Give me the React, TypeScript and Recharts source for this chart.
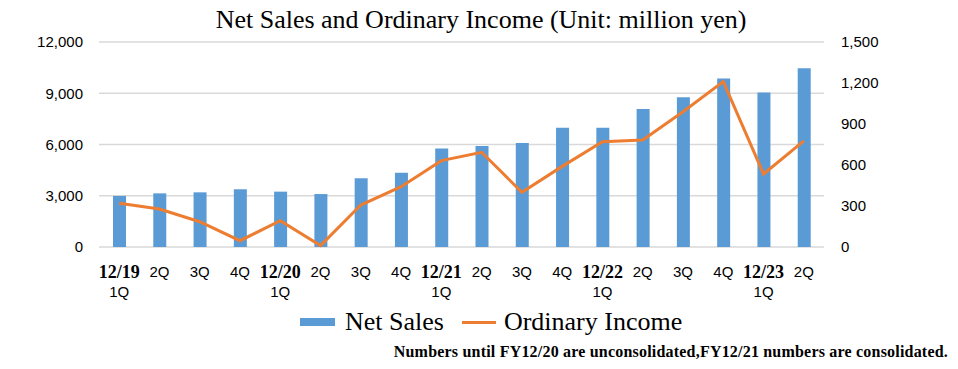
import React from "react";
import {
  ComposedChart, Bar, Line, XAxis, YAxis, CartesianGrid,
} from "recharts";

const categories = [
  "12/19 1Q", "2Q", "3Q", "4Q",
  "12/20 1Q", "2Q", "3Q", "4Q",
  "12/21 1Q", "2Q", "3Q", "4Q",
  "12/22 1Q", "2Q", "3Q", "4Q",
  "12/23 1Q", "2Q",
];
const netSales = [
  2990, 3140, 3200, 3380, 3240, 3100, 4020, 4350, 5760,
  5910, 6090, 6980, 6980, 8080, 8760, 9870, 9050, 10460,
];
const ordinaryIncome = [
  320, 278, 185, 46, 193, 10, 307, 441, 632,
  693, 400, 590, 771, 783, 990, 1210, 534, 776,
];
const salesTicks = [0, 3000, 6000, 9000, 12000];
const incomeTicks = [0, 300, 600, 900, 1200, 1500];

const BLUE = "#5B9BD5";
const ORANGE = "#ED7D31";
const SERIF = "'Liberation Serif', 'Times New Roman', serif";
const SANS = "'Liberation Sans', Arial, sans-serif";

const data = categories.map((c, i) => ({
  idx: i,
  netSales: netSales[i],
  ordinaryIncome: ordinaryIncome[i],
}));

const fmt = (v: number) => v.toLocaleString("en-US");

// period label: "12/19 1Q" -> bold serif year on top, quarter below
const PeriodTick = (props: any) => {
  const { x, y, payload } = props;
  const parts = categories[payload.value].split(" ");
  if (parts.length === 2) {
    return (
      <g>
        <text x={x} y={y + 29} textAnchor="middle" fontFamily={SERIF} fontWeight="bold" fontSize={18} fill="#000">
          {parts[0]}
        </text>
        <text x={x} y={y + 48} textAnchor="middle" fontFamily={SANS} fontSize={15} fill="#000">
          {parts[1]}
        </text>
      </g>
    );
  }
  return (
    <text x={x} y={y + 28} textAnchor="middle" fontFamily={SANS} fontSize={15} fill="#000">
      {parts[0]}
    </text>
  );
};

export default function App() {
  return (
    <div style={{ position: "absolute", left: 0, top: 0, width: 958, height: 369, background: "#fff" }}>
      <div style={{ position: "absolute", left: 0, width: 962, top: 5, textAlign: "center", fontFamily: SERIF, fontSize: 26, color: "#000", lineHeight: "30px" }}>
        Net Sales and Ordinary Income (Unit: million yen)
      </div>
      <ComposedChart
        width={958}
        height={369}
        data={data}
        margin={{ top: 42, right: 74, left: 39, bottom: 62 }}
      >
        <CartesianGrid yAxisId="left" vertical={false} stroke="#D9D9D9" strokeWidth={1.5} />
        <XAxis
          dataKey="idx"
          tick={<PeriodTick />}
          tickLine={false}
          axisLine={false}
          tickSize={0}
          interval={0}
          height={60}
        />
        <YAxis
          yAxisId="left"
          domain={[0, 12000]}
          ticks={salesTicks}
          tickFormatter={fmt}
          axisLine={false}
          tickLine={false}
          tickSize={0}
          tickMargin={16}
          width={60}
          tick={{ fontSize: 15, fill: "#000", fontFamily: SANS }}
        />
        <YAxis
          yAxisId="right"
          orientation="right"
          domain={[0, 1500]}
          ticks={incomeTicks}
          tickFormatter={fmt}
          axisLine={false}
          tickLine={false}
          tickSize={0}
          tickMargin={17}
          width={60}
          tick={{ fontSize: 15, fill: "#000", fontFamily: SANS, textAnchor: "start" }}
        />
        <Bar yAxisId="left" dataKey="netSales" name="Net Sales" fill={BLUE} barSize={13} isAnimationActive={false} />
        <Line
          yAxisId="right"
          dataKey="ordinaryIncome"
          name="Ordinary Income"
          stroke={ORANGE}
          strokeWidth={3}
          dot={false}
          type="linear"
          isAnimationActive={false}
        />
      </ComposedChart>
      <div style={{ position: "absolute", left: 300, top: 306, height: 32, display: "flex", alignItems: "center", fontFamily: SERIF, fontSize: 26, color: "#000", whiteSpace: "nowrap" }}>
        <span style={{ display: "inline-block", width: 35, height: 8, background: BLUE, marginRight: 10 }} />
        <span>Net Sales</span>
        <span style={{ display: "inline-block", width: 34, height: 3, background: ORANGE, marginLeft: 18, marginRight: 8 }} />
        <span>Ordinary Income</span>
      </div>
      <div style={{ position: "absolute", right: 10, top: 343, fontFamily: SERIF, fontWeight: "bold", fontSize: 16, letterSpacing: 0.2, color: "#000", whiteSpace: "nowrap" }}>
        Numbers until FY12/20 are unconsolidated,FY12/21 numbers are consolidated.
      </div>
    </div>
  );
}
